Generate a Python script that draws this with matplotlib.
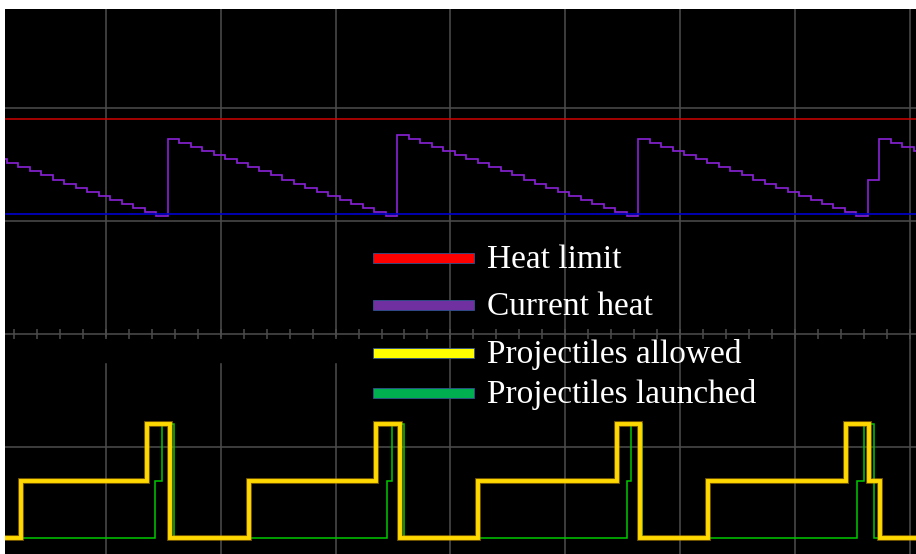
import numpy as np
import matplotlib.pyplot as plt
from matplotlib.patches import Rectangle

# time axis in seconds, one grid division = 1 s
# heat is sampled by the referee system at 10 Hz
heat_t0 = 0.037
heat_dt = 0.1
heat = [14, 13, 12, 11, 10, 9, 8, 7, 6, 5, 4, 3, 2, 1, 0,
        19, 18, 17, 16, 15, 14, 13, 12, 11, 10, 9, 8, 7, 6, 5, 4, 3, 2, 1, 0,
        20, 19, 18, 17, 16, 15, 14, 13, 12, 11, 10, 9, 8, 7, 6, 5, 4, 3, 2, 1, 0,
        19, 18, 17, 16, 15, 14, 13, 12, 11, 10, 9, 8, 7, 6, 5, 4, 3, 2, 1, 0,
        9, 19, 18, 17, 16]
heat_limit = 24
heat_ref = 0.4

# projectile counters (edges in s, level between edges)
allowed_t = [0.0, 0.260, 1.357, 1.557, 2.246, 3.352, 3.557, 4.240,
             5.451, 5.652, 6.244, 7.446, 7.646, 7.746, 8.2]
allowed_n = [0, 1, 2, 0, 1, 2, 0, 1, 2, 0, 1, 2, 1, 0]
launched_t = [0.0, 1.431, 1.488, 1.592, 3.448, 3.491, 3.596, 5.538,
              5.573, 5.673, 7.542, 7.603, 7.686, 8.2]
launched_n = [0, 1, 2, 0, 1, 2, 0, 1, 2, 0, 1, 2, 0]

labels = ["Heat limit", "Current heat", "Projectiles allowed", "Projectiles launched"]
legend_colors = ['#ff0000', '#7030a0', '#ffff00', '#00b050']

W, H = 916, 554
XLIM = (0.1202, 8.0557)
YLIM = (-1.947, 2.876)          # screen divisions
HEAT_ZERO, HEAT_PER_DIV = 1.0442, 27.9
SHOT_ZERO, SHOT_PER_DIV = -1.8053, 1.9825
GRID = '#4d4d4d'


def main():
	fig = plt.figure(figsize=(W / 100, H / 100), dpi=100, facecolor='white')
	rect = [5 / W, 0, 911 / W, 545 / H]
	ax = fig.add_axes(rect)
	ax.set_facecolor('black')
	ax.set_xlim(*XLIM)
	ax.set_ylim(*YLIM)
	ax.set_axis_off()
	ax.add_patch(Rectangle((XLIM[0], YLIM[0]), XLIM[1] - XLIM[0], YLIM[1] - YLIM[0],
	                       color='black', zorder=0))

	# scope graticule
	for x in range(1, 9):
		ax.axvline(x, color=GRID, lw=1.1, zorder=1)
	for y in [-1, 1, 2]:
		ax.axhline(y, color=GRID, lw=1.1, zorder=1)
	ax.add_patch(Rectangle((XLIM[0], -0.248), 3.4, 0.221, color='black', zorder=2))
	ax.axhline(0, color=GRID, lw=1.1, zorder=3)
	ticks = np.arange(0, 8.2, 0.2)
	ax.vlines(ticks, -0.045, 0.045, color=GRID, lw=1.1, zorder=3)

	# heat channel
	axh = ax.twinx()
	axh.set_axis_off()
	axh.set_ylim((YLIM[0] - HEAT_ZERO) * HEAT_PER_DIV, (YLIM[1] - HEAT_ZERO) * HEAT_PER_DIV)
	axh.axhline(heat_limit, color='#d00000', lw=1.1)
	edges = heat_t0 + heat_dt * np.arange(len(heat) + 1)
	axh.stairs(heat, edges, baseline=None, color='#8a22d8', lw=1.2)
	axh.axhline(heat_ref, color='#0000d0', lw=1.2)

	# projectile channel
	axs = ax.twinx()
	axs.set_axis_off()
	axs.set_ylim((YLIM[0] - SHOT_ZERO) * SHOT_PER_DIV, (YLIM[1] - SHOT_ZERO) * SHOT_PER_DIV)
	axs.stairs(launched_n, launched_t, baseline=None, color='#00c800', lw=1.1)
	axs.stairs(allowed_n, allowed_t, baseline=None, color='#c89600', lw=4.2, alpha=0.6)
	axs.stairs(allowed_n, allowed_t, baseline=None, color='#ffd800', lw=2.8)

	# legend
	rows = [258, 305, 353, 393]
	for lab, c, yp in zip(labels, legend_colors, rows):
		fig.add_artist(Rectangle((373 / W, 1 - (yp + 5) / H), 101 / W, 10 / H,
		                         facecolor=c, edgecolor='#2f528f', lw=0.6,
		                         transform=fig.transFigure))
		fig.text(487 / W, 1 - (yp + 10) / H, lab, color='white', fontsize=24,
		         family='Liberation Serif', va='baseline', ha='left')

	fig.savefig('out.png', dpi=100, facecolor='white')


if __name__ == "__main__":
	main()
